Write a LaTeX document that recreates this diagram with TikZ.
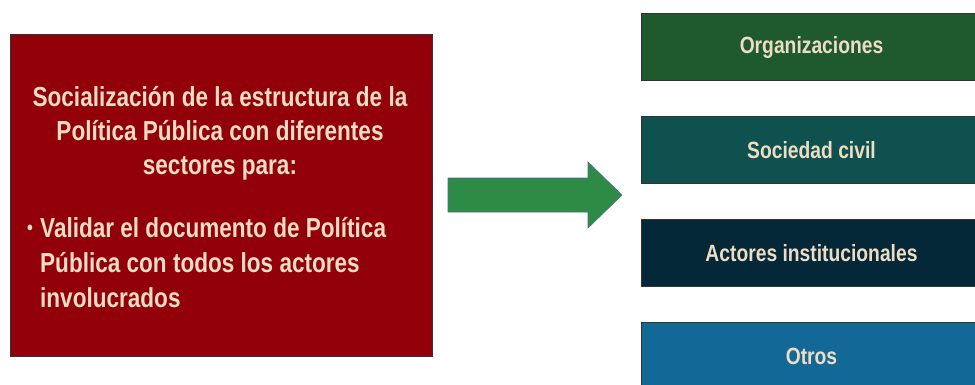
\documentclass[tikz,border=0pt]{standalone}
\usepackage{fontspec}
\setmainfont{Liberation Sans}[FakeStretch=0.82]
\definecolor{redbox}{HTML}{920009}
\definecolor{cream}{HTML}{EEDDC4}
\definecolor{arrowgreen}{HTML}{2E8B46}
\definecolor{arrowedge}{HTML}{4A6E8A}
\definecolor{boxA}{HTML}{1F5A2D}
\definecolor{boxB}{HTML}{0E514F}
\definecolor{boxC}{HTML}{052838}
\definecolor{boxD}{HTML}{126896}
\begin{document}
\begin{tikzpicture}[x=1pt,y=-1pt,
  panel/.style={draw=black!80,line width=1pt,anchor=north west,inner sep=0pt},
  lbl/.style={text=cream,font=\fontsize{23.5}{26}\selectfont\bfseries},
  big/.style={text=cream,font=\fontsize{27.5}{34}\selectfont\bfseries,inner sep=0pt}]
\useasboundingbox (0,0) rectangle (975,384);
\node[panel,fill=redbox,minimum width=422pt,minimum height=322pt] (main) at (10,34) {};
\node[big,align=center,anchor=north] (head) at (220,86) {Socialización de la estructura de la\\Política Pública con diferentes\\sectores para:};
\node[big,anchor=west,font=\fontsize{20}{20}\selectfont\bfseries] (dot) at (27,230) {•};
\node[big,align=left,anchor=north west,font=\fontsize{27.5}{35}\selectfont\bfseries] (bul) at (40,217) {Validar el documento de Política\\Pública con todos los actores\\involucrados};
\node[panel,fill=boxA,minimum width=340pt,minimum height=67pt] (org) at (641,13) {};
\node[lbl] at (org.center) {Organizaciones};
\node[panel,fill=boxB,minimum width=340pt,minimum height=67pt] (soc) at (641,116) {};
\node[lbl] at (soc.center) {Sociedad civil};
\node[panel,fill=boxC,minimum width=340pt,minimum height=67pt] (act) at (641,219) {};
\node[lbl] at (act.center) {Actores institucionales};
\node[panel,fill=boxD,minimum width=340pt,minimum height=67pt] (otr) at (641,322) {};
\node[lbl] at (otr.center) {Otros};
\draw[fill=arrowgreen,draw=arrowedge,line width=0.6pt] (448,178) -- (588,178) -- (588,162) -- (622,195) -- (588,228) -- (588,212) -- (448,212) -- cycle;
\end{tikzpicture}
\end{document}
